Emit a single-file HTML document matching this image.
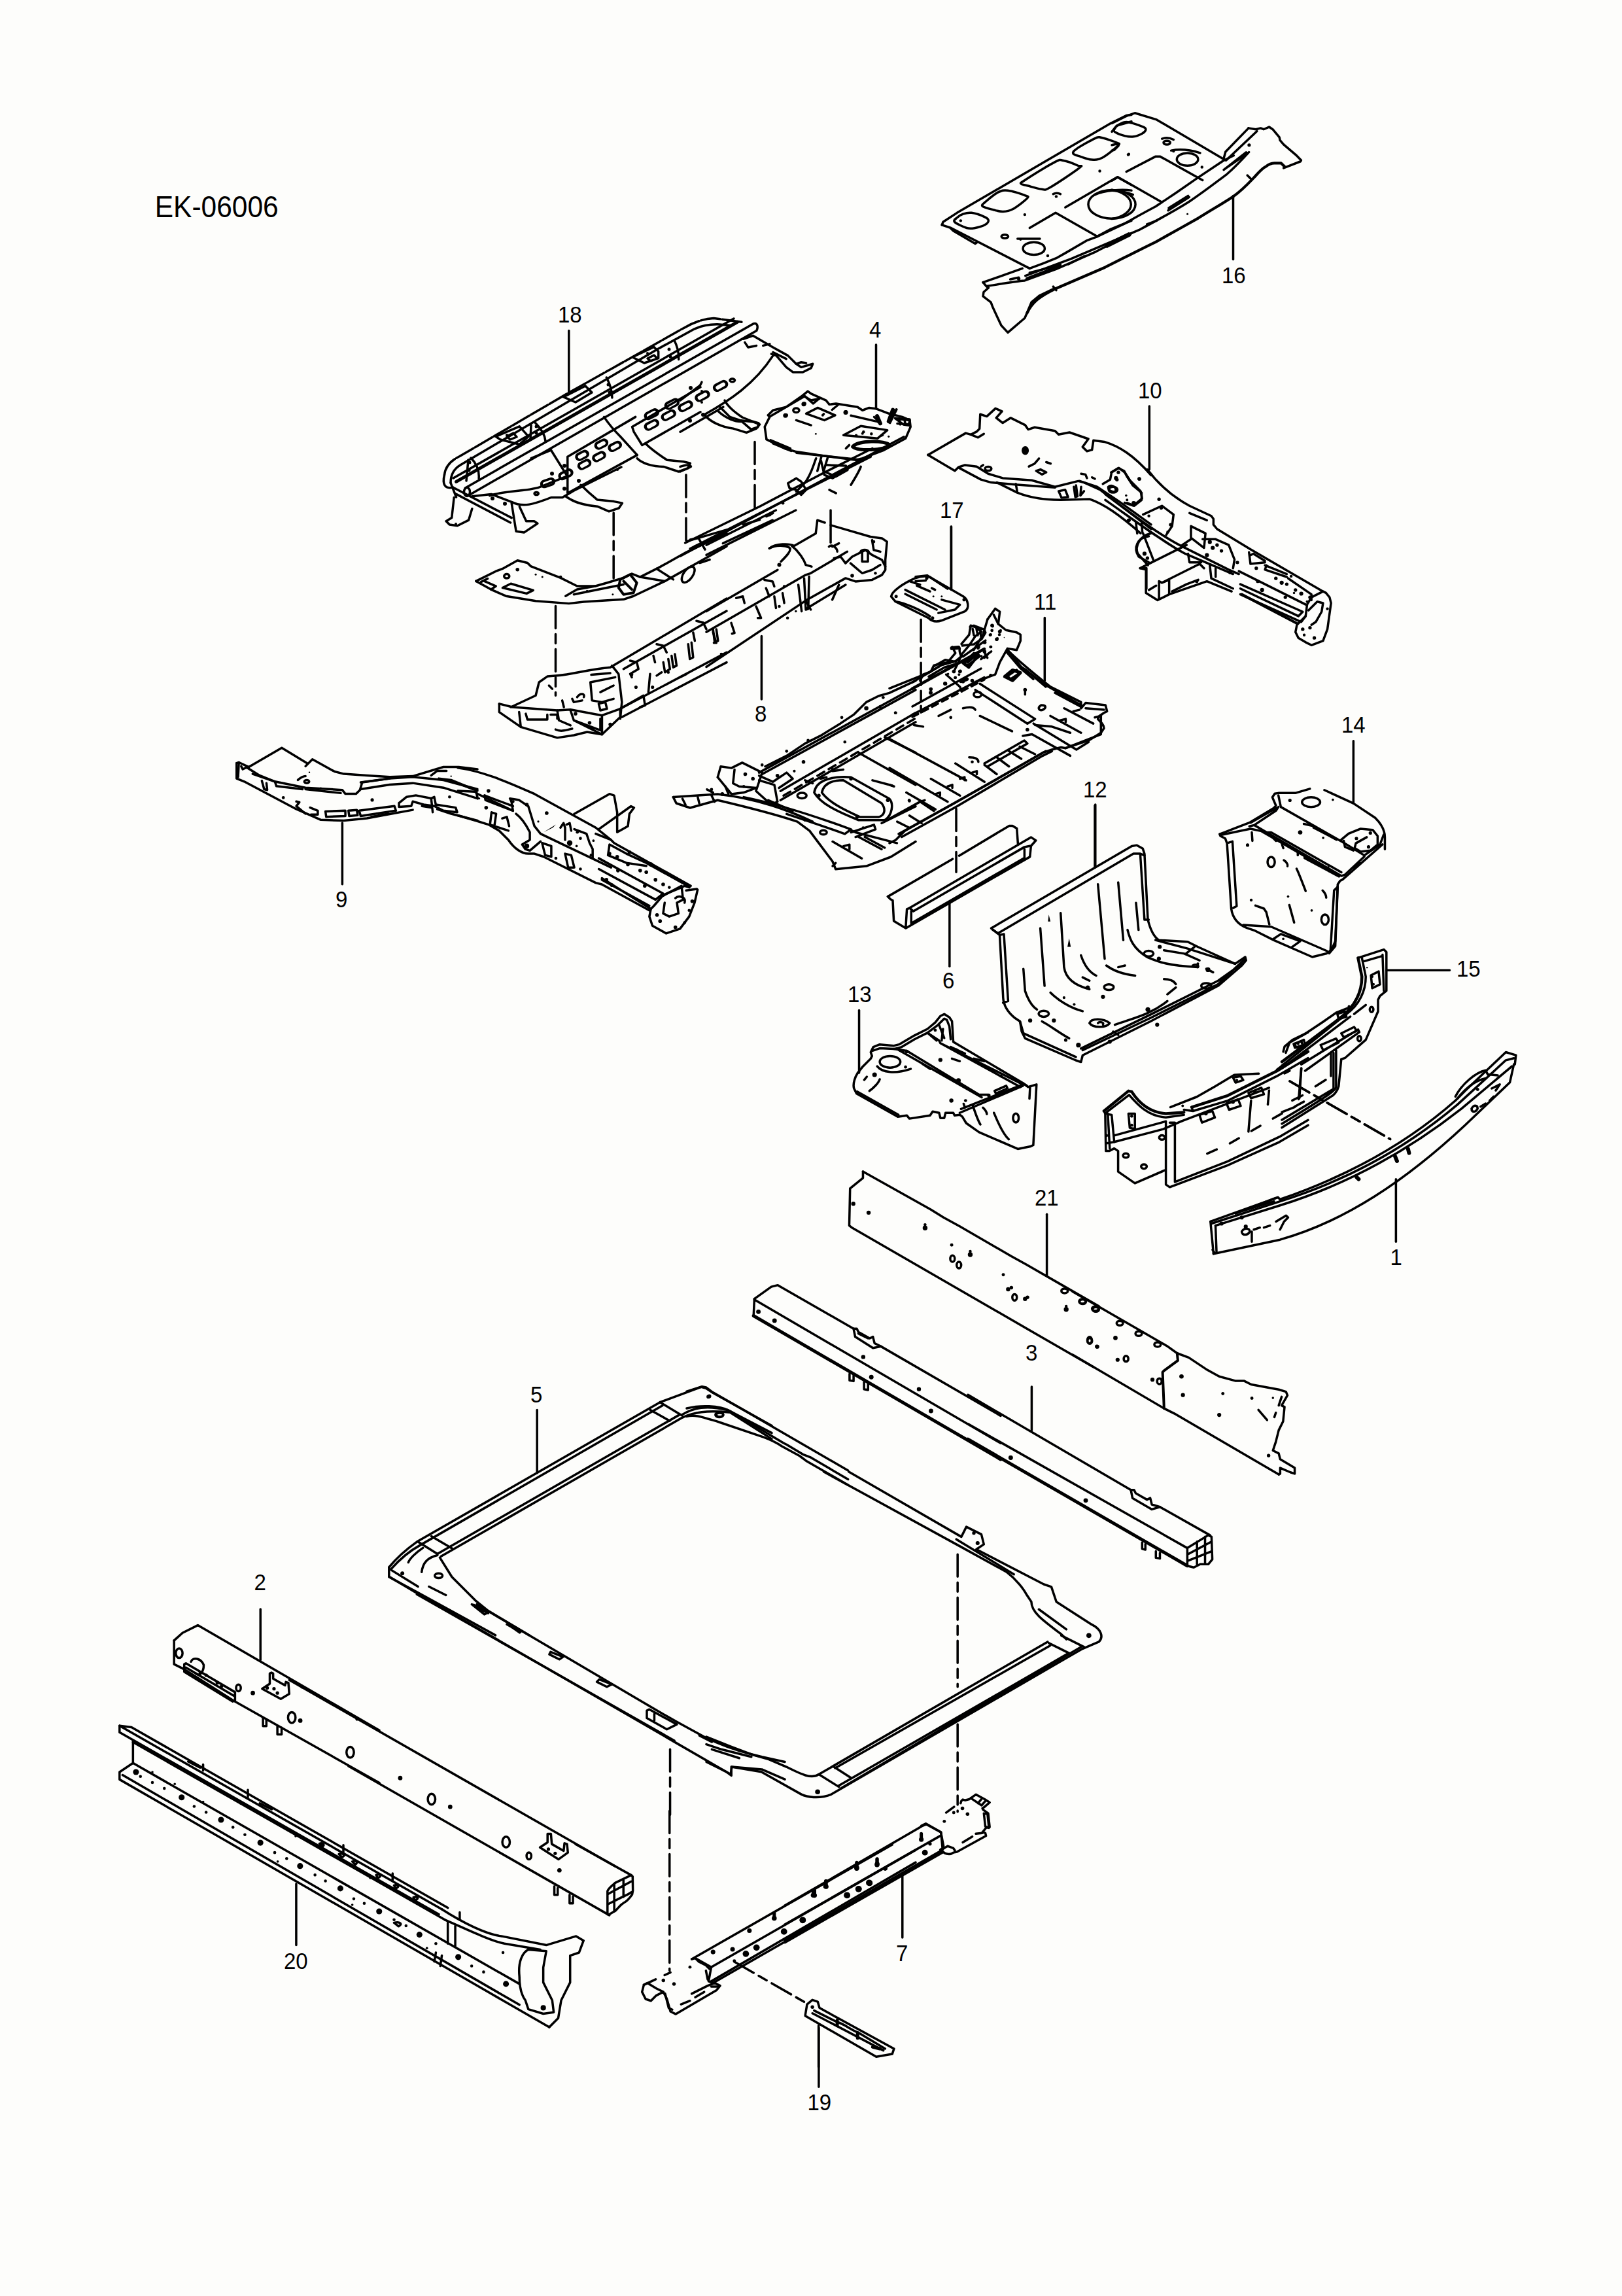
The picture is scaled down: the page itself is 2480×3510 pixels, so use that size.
<!DOCTYPE html>
<html><head><meta charset="utf-8"><style>
html,body{margin:0;padding:0;background:#fdfdfb;overflow:hidden;}
svg{display:block;}
svg{fill:none;stroke:#000;stroke-width:3.5;stroke-linejoin:round;stroke-linecap:round;}
path,ellipse,circle,rect,polyline,line{vector-effect:non-scaling-stroke;}
.dots circle,.f{fill:#000;stroke:none;}
text{font-family:"Liberation Sans",sans-serif;fill:#000;stroke:none;}
</style></head><body>
<svg width="2480" height="3510" viewBox="0 0 2480 3510">
<rect x="0" y="0" width="2480" height="3510" style="fill:#fdfdfb;stroke:none"/>
<text transform="translate(236.7,332.0) scale(1,1.07)" font-size="42.5">EK-06006</text>
<text transform="translate(1868.0,432.5) scale(1,1.06)" font-size="33">16</text>
<path d="M1885.5,299.5 L1885.5,396.6"/>
<text transform="translate(853.0,493.0) scale(1,1.06)" font-size="33">18</text>
<path d="M869.8,505.6 L869.8,599.4"/>
<text transform="translate(1329.0,515.7) scale(1,1.06)" font-size="33">4</text>
<path d="M1339.5,527 L1339.5,624.7"/>
<text transform="translate(1154.0,1103.0) scale(1,1.06)" font-size="33">8</text>
<path d="M1164.4,972.6 L1164.4,1068.9"/>
<text transform="translate(1437.0,792.0) scale(1,1.06)" font-size="33">17</text>
<path d="M1454.4,805 L1454.5,901.6"/>
<text transform="translate(1740.0,609.2) scale(1,1.06)" font-size="33">10</text>
<text transform="translate(1581.0,931.6) scale(1,1.06)" font-size="33">11</text>
<path d="M1597.3,944.5 L1597.3,1040.6"/>
<text transform="translate(1656.0,1218.6) scale(1,1.06)" font-size="33">12</text>
<path d="M1674,1231.5 L1674,1326.4"/>
<text transform="translate(513.0,1386.9) scale(1,1.06)" font-size="33">9</text>
<text transform="translate(1441.0,1511.3) scale(1,1.06)" font-size="33">6</text>
<text transform="translate(2051.0,1119.8) scale(1,1.06)" font-size="33">14</text>
<text transform="translate(2227.0,1493.0) scale(1,1.06)" font-size="33">15</text>
<text transform="translate(2125.6,1933.5) scale(1,1.06)" font-size="33">1</text>
<text transform="translate(1296.0,1531.6) scale(1,1.06)" font-size="33">13</text>
<text transform="translate(1582.0,1842.7) scale(1,1.06)" font-size="33">21</text>
<text transform="translate(1568.0,2079.5) scale(1,1.06)" font-size="33">3</text>
<text transform="translate(811.0,2143.6) scale(1,1.06)" font-size="33">5</text>
<text transform="translate(434.0,3010.0) scale(1,1.06)" font-size="33">20</text>
<text transform="translate(1370.0,2997.7) scale(1,1.06)" font-size="33">7</text>
<text transform="translate(388.5,2431.2) scale(1,1.06)" font-size="33">2</text>
<text transform="translate(1234.5,3226.3) scale(1,1.06)" font-size="33">19</text>
<path d="M1251.9,3100 L1251.9,3190.3"/>

<g transform="translate(1840,1590) scale(0.30826)">
<path d="M35,900 L370,780 L380,790 C700,680 1000,520 1250,300 L1300,250 L1500,60 L1550,75 L1545,120"/>
<path d="M40,910 L380,800 C700,700 1000,540 1260,320 L1500,100 L1540,90"/>
<path d="M60,920 L380,820 C700,720 1000,560 1280,340 L1530,130"/>
<path d="M50,1060 L380,990 C700,900 1000,700 1300,420 L1520,210 L1540,120"/>
<path d="M35,900 L50,1060 M45,1040 L55,1055 M60,920 L65,1050"/>
<path d="M160,860 L340,790 L370,780 M170,855 L350,800"/>
<path d="M1250,280 C1280,220 1350,160 1400,150 L1410,170 L1460,175 M1260,290 C1300,240 1350,200 1400,190"/>
<path d="M190,950 C200,930 230,930 230,950 C220,970 190,970 190,950 M250,940 L280,930 M300,930 L330,920 M360,900 L410,870 L420,880 L400,900 L380,940 M240,950 L240,1000"/>
<path d="M1330,340 C1340,320 1360,320 1360,340 C1350,360 1330,360 1330,340 M1375,330 L1400,315 M1420,300 L1440,280 M1450,250 L1470,220 L1430,240"/>
<path d="M950,575 L960,600 M1015,540 L1020,560 M760,680 L770,690" stroke-width="6"/>
<path d="M430,205 L925,490" stroke-dasharray="34,9,14,9"/>
<path d="M955,690 L955,1000"/>
<g class="dots"><circle cx="90" cy="910" r="10"/><circle cx="190" cy="880" r="10"/><circle cx="210" cy="925" r="10"/><circle cx="1360" cy="245" r="8"/></g>
</g>

<g transform="translate(160,2460) scale(0.25894)">
<path d="M410,185 L460,140 L550,95 L1622,715"/>
<path d="M410,185 L410,325 L470,355 L760,540 L1622,1025"/>
<path d="M470,325 L480,320 L770,490 L770,540 L755,545 L470,370 Z M480,345 L760,510"/>
<path d="M510,310 C520,280 570,290 585,330 C585,370 560,400 540,380"/>
<ellipse cx="440" cy="260" rx="20" ry="28"/>
<ellipse cx="790" cy="465" rx="14" ry="20"/>
<ellipse cx="1105" cy="640" rx="22" ry="32"/>
<ellipse cx="1450" cy="845" rx="22" ry="32"/>
<path d="M975,380 L985,375 L995,380 L995,410 L1065,450 L1070,430 L1085,435 L1090,500 L1040,530 L930,470 L975,440 Z"/>
<path d="M935,640 L935,690 L955,690 L955,650 M1020,690 L1020,740 L1045,740 L1045,700"/>
<path d="M920,0 L920,300"/>
<g class="dots"><circle cx="875" cy="495" r="13"/><circle cx="1155" cy="658" r="13"/><circle cx="565" cy="375" r="10"/><circle cx="600" cy="390" r="10"/><circle cx="665" cy="435" r="10"/><circle cx="690" cy="455" r="10"/><circle cx="960" cy="465" r="10"/><circle cx="1000" cy="470" r="10"/><circle cx="1020" cy="495" r="10"/><circle cx="1165" cy="460" r="9"/><circle cx="1490" cy="650" r="9"/></g>
</g>
<g transform="translate(520,2700) scale(0.25894)">
<path d="M-300,-509 L1622,590"/>
<path d="M50,0 L1590,880"/>
<path d="M1180,480 L1225,450 L1225,400 L1245,400 L1250,460 L1320,500 L1325,455 L1340,460 L1345,510 L1290,550 Z"/>
<ellipse cx="540" cy="195" rx="22" ry="32"/>
<ellipse cx="980" cy="448" rx="22" ry="32"/>
<ellipse cx="1115" cy="530" rx="14" ry="20"/>
<path d="M1265,710 L1265,760 L1285,760 L1285,720 M1355,760 L1355,810 L1375,810 L1375,770"/>
<g class="dots"><circle cx="355" cy="70" r="13"/><circle cx="650" cy="240" r="13"/><circle cx="1295" cy="615" r="13"/><circle cx="1230" cy="490" r="10"/><circle cx="1270" cy="515" r="10"/></g>
</g>
<g transform="translate(880,2820) scale(0.07398)">
<path d="M0,-10 L1150,630"/>
<path d="M660,1440 L660,960 C680,900 750,850 820,790 L1150,630 L1180,660 L1185,950 L1170,1030 C1120,1100 1080,1160 1000,1200 C900,1260 880,1320 820,1370 L680,1450 Z"/>
<path d="M800,810 L800,1380 M990,730 L990,1080 M670,1020 L1150,760 M670,1230 L970,1080 C1050,1050 1100,1020 1160,980"/>
</g>

<g transform="translate(1130,1940) scale(0.24661)">
<path d="M95,185 L200,110 L240,100 L710,370 M880,480 L1622,910"/>
<path d="M95,190 L1622,1080"/>
<path d="M90,290 L1622,1180" stroke-width="5"/>
<path d="M95,185 L90,290"/>
<path d="M710,370 L730,370 L740,390 L810,430 L830,420 L840,460 L880,480 L830,490 L720,420 Z M740,400 L800,430"/>
<path d="M685,650 L685,690 L710,695 L710,660 M775,700 L775,745 L800,750 L800,710"/>
<g class="dots"><circle cx="120" cy="265" r="14"/><circle cx="220" cy="320" r="14"/><circle cx="770" cy="545" r="13"/><circle cx="820" cy="670" r="14"/><circle cx="1115" cy="745" r="13"/><circle cx="1190" cy="880" r="14"/></g>
</g>
<g transform="translate(1480,2120) scale(0.24661)">
<path d="M0,50 L1010,640 M1190,745 L1500,920"/>
<path d="M0,230 L1360,1000"/>
<path d="M0,325 L1360,1110" stroke-width="5"/>
<path d="M1360,1000 L1490,920 L1510,930 L1515,1070 L1490,1100 L1440,1100 L1400,1120 L1360,1110 Z M1420,960 L1420,1100 M1470,930 L1470,1090 M1360,1040 L1510,960 M1360,1080 L1510,1020"/>
<path d="M1010,640 L1030,640 L1040,660 L1110,700 L1130,690 L1140,730 L1190,745 L1140,760 L1020,690 Z"/>
<path d="M1080,965 L1080,1005 L1100,1010 L1100,975 M1165,1020 L1165,1060 L1190,1065 L1190,1030"/>
<path d="M395,0 L395,270"/>
<g class="dots"><circle cx="265" cy="440" r="14"/><circle cx="730" cy="705" r="14"/></g>
</g>

<g transform="translate(1040,460) scale(0.25339)">
<path d="M520,830 L510,760 L540,700 L530,690 L560,660 L640,640 L740,570 L770,545 L790,560 L880,600 L900,625 L940,620 L1070,640 L1100,660 L1140,645 L1180,650 L1260,680 L1340,700 L1385,720 L1390,760 L1360,830 L1230,900 L1100,950 L1060,960 L870,935 L700,910 L630,890 L520,835 Z"/>
<path d="M760,680 L830,645 L935,690 L870,720 Z"/>
<path d="M985,810 L1090,755 L1250,780 L1190,830 Z"/>
<ellipse cx="700" cy="660" rx="18" ry="13"/>
<path d="M700,720 L790,750"/>
<path d="M560,860 L670,905 M545,840 L665,890"/>
<path d="M740,570 L790,600 L840,590"/>
<path d="M1040,880 C1070,840 1240,840 1265,870 C1240,900 1070,910 1040,880 Z" stroke-width="5"/>
<path d="M1300,710 L1385,720 L1380,745 L1310,740"/>
<path d="M1305,655 L1265,735" stroke-width="4"/>
<path d="M1000,890 L1020,870 M1170,700 L1210,740"/>
<path d="M0,1540 L1350,820" stroke-width="3.5"/>
<path d="M30,1460 L480,1240 L880,1030 L1160,890"/>
<path d="M60,1495 L600,1220 L1150,940"/>
<path d="M820,950 C800,1000 790,1050 750,1100 L700,1150"/>
<path d="M850,965 L870,1050 L920,1070 L1000,1020 L1040,990"/>
<path d="M880,990 L1000,995 L1010,1020 L940,1060 L870,1030"/>
<path d="M650,1100 L700,1070 L730,1090 L760,1140 L730,1170 L700,1140 L660,1130 Z"/>
<path d="M1030,1110 C1060,1060 1080,1030 1090,1000"/>
<path d="M380,1350 L480,1320 M250,1400 L300,1380 M520,1300 L560,1280"/>
<path d="M60,1440 L110,1430 L150,1500"/>
<path d="M900,1140 L940,1160"/>
<g class="dots"><circle cx="640" cy="690" r="11"/><circle cx="750" cy="620" r="11"/><circle cx="1000" cy="670" r="11"/><circle cx="1200" cy="730" r="11"/><circle cx="620" cy="1220" r="9"/><circle cx="540" cy="1290" r="10"/><circle cx="860" cy="690" r="8"/><circle cx="1100" cy="800" r="8"/><circle cx="1220" cy="810" r="8"/></g>
</g>
<g transform="translate(700,820) scale(0.25339)">
<path d="M110,270 L160,245 L230,210 L270,195 L360,145 L420,160 L440,180 L620,250 L720,300 L830,300 L900,280 L1000,250 L1050,225 L1100,245 L1210,190 L1380,95 L1622,-20"/>
<path d="M110,270 L200,320 L290,360 L470,390 L670,405 L760,395 L1000,380 L1060,360 L1250,270 L1622,60"/>
<path d="M160,270 L230,300 L200,320 M140,275 L180,255"/>
<path d="M270,310 L320,285 L455,325 L415,345 Z"/>
<ellipse cx="295" cy="240" rx="16" ry="13"/>
<path d="M650,360 L720,320 L830,300 M700,350 L900,310 L1000,290"/>
<path d="M980,260 L1040,230 L1080,280 L1060,340 L1000,350 L970,310 Z" stroke-width="4"/>
<path d="M1000,270 L1050,320" stroke-width="4"/>
<ellipse cx="1390" cy="230" rx="28" ry="55" transform="rotate(35 1390 230)"/>
<path d="M1100,245 L1250,270 M1200,195 L1300,260"/>
<path d="M1380,30 L1622,-40 M1430,60 L1622,-10 M1460,160 L1520,140"/>
<path d="M940,-142 L940,260" stroke-dasharray="34,9,14,9"/>
<path d="M590,420 L590,960" stroke-dasharray="34,9,14,9"/>
<g class="dots"><circle cx="360" cy="200" r="11"/><circle cx="620" cy="245" r="9"/><circle cx="470" cy="230" r="6"/><circle cx="510" cy="245" r="6"/><circle cx="935" cy="350" r="6"/><circle cx="780" cy="330" r="7"/></g>
</g>
<g transform="translate(1160,580) scale(0.16030)">
<path d="M105,355 L430,165 M440,160 L520,230 L580,180 M700,290 L760,240"/>
<path d="M880,345 L1120,400 M1300,370 L1440,380 L1440,440 L1380,430 Z M1340,375 L1350,430 M1390,380 L1400,430"/>
<path d="M1130,350 L1160,420 M1280,290 L1240,400" stroke-width="6"/>
<path d="M360,700 L1000,770 M600,730 L560,873 M660,740 L620,873"/>
<g class="dots"><circle cx="430" cy="235" r="22"/><circle cx="255" cy="345" r="22"/><circle cx="830" cy="315" r="22"/><circle cx="1140" cy="395" r="20"/><circle cx="930" cy="535" r="14"/><circle cx="1000" cy="500" r="14"/><circle cx="1075" cy="520" r="14"/><circle cx="1170" cy="535" r="12"/><circle cx="1240" cy="545" r="10"/><circle cx="620" cy="330" r="12"/><circle cx="545" cy="520" r="9"/></g>
</g>

<g transform="translate(580,2100) scale(0.36992)">
<path d="M40,800 C80,750 120,720 155,695 L1160,118 L1330,55 L1350,60 L1380,80 L1622,215"/>
<path d="M48,808 C90,760 130,730 170,708 L1170,132"/>
<path d="M240,745 L1240,170 M255,755 L1255,180"/>
<path d="M160,695 L240,745 M215,672 L300,722 M1120,150 L1200,195 M1160,118 L1250,172"/>
<path d="M1255,180 C1300,160 1350,150 1450,160 L1622,270 M1250,170 C1300,140 1350,130 1440,150 L1622,245"/>
<path d="M40,800 L40,840 L160,905 L480,1081 M50,812 L160,880"/>
<path d="M180,720 C150,740 125,765 120,780 M250,760 L300,840 L400,940 L450,980 L620,1081 M175,820 C180,780 200,760 240,750"/>
<ellipse cx="245" cy="835" rx="16" ry="10"/>
<path d="M205,880 L275,915 M390,955 L450,990 M530,1035 L580,1070"/>
<ellipse cx="1405" cy="170" rx="16" ry="10"/>
<path d="M652,150 L652,410"/>
<g class="dots"><circle cx="95" cy="825" r="8"/><circle cx="1360" cy="95" r="8"/></g>
</g>
<g transform="translate(580,2380) scale(0.38225)">
<path d="M40,80 L150,145 L1180,740 L1405,870 L1410,840 L1530,850 L1622,890"/>
<path d="M150,150 L1180,735"/>
<path d="M390,190 L440,220 L1120,620 L1190,660 L1300,720 C1380,760 1450,780 1490,790 L1530,800 L1622,820"/>
<path d="M1330,770 L1440,805 M1280,715 L1330,740"/>
<path d="M370,190 L410,215 L440,220 L420,230 Z M510,270 L565,300 M685,380 L735,400 L720,410 L680,390 Z M880,490 L930,510 L910,520 L870,500 Z"/>
<path d="M1070,615 L1080,610 L1190,670 L1150,690 L1070,645 Z M1100,628 L1100,655"/>
<path d="M1163,770 L1163,1046" stroke-dasharray="34,9,14,9"/>
</g>
<g transform="translate(1080,2250) scale(0.38225)">
<path d="M470,0 L1000,290 L1200,400 C1240,430 1270,470 1280,490 L1300,520 C1300,560 1340,590 1420,650 L1440,670"/>
<path d="M570,0 L1020,260 L1040,220 L1100,250 L1110,290 L1080,310 L1350,450 L1380,460 L1400,520 L1540,610 C1580,630 1590,660 1570,680 L1500,710 L500,1290 C450,1310 400,1300 380,1290 L220,1200 L100,1180 L100,1215 L80,1200 L0,1160"/>
<path d="M1365,680 L450,1210 C420,1230 380,1210 320,1180 L250,1150 L180,1130 L100,1100 L0,1060"/>
<path d="M1375,695 L515,1185 M1450,725 L530,1255 M1500,700 L540,1265"/>
<path d="M1370,685 L1450,725 M1420,655 L1510,700 M450,1210 L530,1260 M510,1180 L580,1225"/>
<path d="M0,1090 L60,1110 L180,1140 M1330,550 L1440,630 M1000,270 L1230,410"/>
<path d="M1005,330 L1005,860" stroke-dasharray="34,9,14,9"/>
<path d="M1005,1010 L1005,1360" stroke-dasharray="34,9,14,9"/>
<g class="dots"><circle cx="1530" cy="655" r="10"/><circle cx="445" cy="1280" r="10"/><circle cx="1070" cy="245" r="7"/><circle cx="1085" cy="285" r="8"/></g>
</g>
<g transform="translate(1050,2100) scale(0.24661)">
<path d="M0,110 L95,80 L120,85 L160,115 L300,195 L1000,600"/>
<path d="M0,215 C80,195 200,195 265,230 L600,430 L620,440 L720,500 L770,520 L1000,655"/>
<path d="M0,265 C50,250 100,270 200,300 L480,395 C520,410 560,430 590,450 L700,510 L740,540 L1000,690"/>
<ellipse cx="205" cy="255" rx="22" ry="12"/>
<g class="dots"><circle cx="140" cy="140" r="12"/></g>
</g>

<g transform="translate(1330,1200) scale(0.16646)">
<path d="M165,1025 L190,1050 L210,1060 L220,1250 L330,1315 L1470,660 L1480,560 L1525,510 L1480,480 L365,1130 L340,1140 L330,1300"/>
<path d="M165,1025 L760,680 M820,650 L1280,375 L1310,375 L1350,400 L1360,540"/>
<path d="M365,1130 L400,1160 L1420,570 L1470,560"/>
<path d="M380,1160 L380,1270 L1420,670 L1420,590"/>
<path d="M793,220 L793,800" stroke-dasharray="34,9,14,9"/>
<path d="M732,1080 L732,1665"/>
</g>

<g transform="translate(960,2820) scale(0.27127)">
<path d="M360,645 L1490,0"/>
<path d="M360,645 L380,640 L470,690 L1622,30"/>
<path d="M470,690 L455,770 L480,780 L1622,125 M470,770 L1622,100"/>
<path d="M380,640 L400,660 L440,680 L460,700 M440,710 L450,760"/>
<path d="M90,790 L80,830 L100,870 L130,880 L160,850 L200,830 L220,870 L240,940 L270,955 L500,820 L520,795 L490,780 L450,795 L360,840 M90,790 L110,780 L160,810 L200,830"/>
<path d="M210,840 L230,920 L250,930 M300,900 L350,880 M380,860 L430,830 M470,800 L510,800"/>
<path d="M90,790 L240,720" stroke-dasharray="20,15"/>
<path d="M600,660 L1000,890" stroke-dasharray="34,9,14,9"/>
<path d="M235,-190 L235,710" stroke-dasharray="34,9,14,9"/>
<g class="dots"><circle cx="480" cy="605" r="13"/><circle cx="590" cy="590" r="13"/><circle cx="685" cy="485" r="13"/><circle cx="665" cy="615" r="18"/><circle cx="725" cy="580" r="18"/><circle cx="880" cy="490" r="18"/><circle cx="985" cy="425" r="18"/><circle cx="1235" cy="285" r="18"/><circle cx="1300" cy="250" r="18"/><circle cx="1360" cy="215" r="18"/><circle cx="1450" cy="135" r="12"/><circle cx="825" cy="415" r="14"/><circle cx="1045" cy="285" r="14"/><circle cx="1115" cy="235" r="14"/><circle cx="1290" cy="130" r="14"/><circle cx="1405" cy="110" r="14"/><circle cx="200" cy="765" r="10"/><circle cx="260" cy="785" r="10"/><circle cx="600" cy="655" r="9"/><circle cx="350" cy="690" r="9"/></g>
<path d="M825,385 L825,415 M1045,255 L1045,285 M1115,205 L1115,235 M1290,100 L1290,130 M1405,80 L1405,110" stroke-width="5"/>
</g>
<g transform="translate(1200,2760) scale(0.22194)">
<path d="M0,690 L950,140 L975,130 L1075,185 L1095,290 L1080,310"/>
<path d="M0,820 L1070,210"/>
<path d="M0,930 L1080,310 M0,945 L1085,325"/>
<g class="dots"><circle cx="205" cy="620" r="16"/><circle cx="285" cy="560" r="16"/><circle cx="495" cy="435" r="16"/><circle cx="635" cy="410" r="16"/><circle cx="940" cy="235" r="16"/><circle cx="695" cy="435" r="12"/><circle cx="1000" cy="265" r="12"/><circle cx="430" cy="620" r="20"/><circle cx="510" cy="575" r="20"/><circle cx="585" cy="535" r="20"/><circle cx="965" cy="325" r="20"/><circle cx="125" cy="790" r="20"/></g>
<path d="M205,585 L205,620 M285,520 L285,560 M495,395 L495,435 M635,370 L635,410 M940,195 L940,235" stroke-width="5"/>
<path d="M810,480 L810,910"/>
</g>
<g transform="translate(1380,2730) scale(0.11098)">
<path d="M540,880 C560,940 650,960 700,920 L750,910 L1150,690 L1140,650 L1100,640 L1150,580 L1200,570 L1180,380 L1110,330 L1100,310 L1130,290 L1200,230 L1130,185 L1010,120 L940,170 L920,185 L860,200 L830,190 L810,210 L800,240"/>
<path d="M1120,380 L1140,560 L1190,580 L1170,390 Z M940,170 L1090,270 L1140,210 M1040,240 L1090,180 M540,880 L620,830 L700,860 L720,890 M600,370 L710,290 M830,780 L960,700 M1010,660 L1100,650"/>
<path d="M260,550 L320,520 L530,640 L550,860 L520,880"/>
<g class="dots"><circle cx="825" cy="310" r="25"/><circle cx="895" cy="390" r="25"/><circle cx="705" cy="370" r="22"/><circle cx="575" cy="490" r="22"/></g>
</g>

<g transform="translate(700,820) scale(0.25339)">
<path d="M250,1010 L250,1060 L380,1150 L600,1215 L700,1200 L780,1180 L870,1195 L980,1090 L980,1040 L1622,700"/>
<path d="M320,1030 L470,960 L490,880 L540,845 L600,840 C700,830 800,800 920,790 L1622,375"/>
<path d="M250,1010 L330,1030 L600,1050 L680,1045 L870,1080 L980,1040"/>
<path d="M930,780 L970,830 L990,1000 L980,1100"/>
<path d="M990,1090 L1622,760"/>
<path d="M410,1070 L420,1105 L540,1105 L540,1075 M560,1075 L600,1075 L600,1100"/>
<path d="M370,1060 L380,1150 M600,1050 L610,1110 L680,1140 M680,1050 L700,1110 L860,1170 L860,1100 M700,1110 L870,1195 L870,1080"/>
<path d="M805,835 L920,825 M800,880 L950,850 M800,880 L810,990 L870,1000 L940,980 M860,940 L940,900"/>
<path d="M690,980 L700,1000 L750,990 M720,970 C740,940 770,950 760,970"/>
<path d="M850,1010 L890,1000 L900,1040 L860,1050 Z"/>
<path d="M590,1165 C620,1180 650,1170 690,1160"/>
<path d="M630,990 L640,1030 M550,900 L570,920"/>
<path d="M1000,800 L1622,450"/>
<path d="M1040,750 L1080,760 L1090,800 L1040,830 L1050,850 M1160,830 L1150,940"/>
<path d="M1200,650 L1240,660 L1260,700 M1180,720 L1190,760 M1240,760 L1250,820 L1280,800 L1270,740 M1290,720 L1300,790 L1320,780 L1310,710"/>
<path d="M1440,510 L1480,520 L1500,560 M1420,580 L1430,630 M1390,650 L1400,740 L1420,730 L1410,640 M1540,560 L1550,640 L1570,630 L1560,560"/>
<path d="M980,1040 L1120,960 L1130,1020 L1100,1030"/>
<path d="M1340,850 L1380,830 M1200,840 L1230,820"/>
<g class="dots"><circle cx="710" cy="1070" r="11"/><circle cx="795" cy="1125" r="11"/><circle cx="920" cy="1135" r="11"/><circle cx="1075" cy="910" r="10"/><circle cx="1175" cy="910" r="10"/><circle cx="1270" cy="820" r="9"/><circle cx="1590" cy="710" r="9"/><circle cx="1050" cy="835" r="9"/></g>
</g>
<g transform="translate(1080,780) scale(0.25339)">
<path d="M0,610 L430,360"/>
<path d="M380,230 C420,200 500,200 530,215 L660,140 L670,60 L715,75"/>
<path d="M750,90 L990,160 L1060,170 L1090,190 L1080,300 L1080,360 L1060,390 L1000,420 L900,430 L840,410 L600,545 L0,945"/>
<path d="M380,230 C420,210 470,210 500,225 C520,240 480,280 450,310"/>
<path d="M515,215 C560,250 590,300 600,330 L635,340"/>
<path d="M0,735 L600,390 L630,380 L850,250"/>
<path d="M610,590 L840,450 M600,545 L630,600"/>
<path d="M40,735 L60,800 L45,800 M150,680 L170,740 L155,745 M300,580 L330,650 L310,650 M410,520 L420,590 M460,500 L470,560 M555,450 L575,610 M590,410 L600,600 L615,595 L620,400"/>
<path d="M180,530 L220,520 L230,560 M350,420 L400,430 L410,460 M360,470 L380,520"/>
<path d="M770,290 L810,280 L840,320 L880,280 L960,240 L1000,270 L1060,300 L1080,340"/>
<path d="M940,250 L940,310 L975,310 L975,250 M930,250 C940,235 970,235 980,250"/>
<path d="M870,320 L940,380 L1000,360 L1050,330 M760,540 L800,450"/>
<path d="M1000,180 L1010,240 L1050,250"/>
<path d="M800,200 L760,220 M740,220 C760,200 790,230 790,250"/>
<path d="M750,0 L750,195" />
<path d="M0,270 L540,0 M0,210 L420,0 M100,200 L400,60"/>
<g class="dots"><circle cx="440" cy="330" r="12"/><circle cx="880" cy="395" r="11"/><circle cx="1010" cy="190" r="9"/><circle cx="1020" cy="380" r="9"/><circle cx="95" cy="870" r="9"/><circle cx="490" cy="650" r="9"/><circle cx="440" cy="580" r="9"/><circle cx="470" cy="460" r="9"/><circle cx="540" cy="610" r="7"/></g>
</g>

<g transform="translate(350,1080) scale(0.23428)">
<path d="M50,370 L65,365 L130,395 L345,270 L510,370 M500,390 L545,345 L690,425 L750,440 L900,450 L1050,460 L1200,455 L1400,395 L1500,395 L1622,410"/>
<path d="M50,370 L50,470 L100,490 L440,670 L600,740 L750,745 L900,730 L1200,675"/>
<path d="M65,365 L60,460 M80,390 L90,410 L110,400 L130,395"/>
<path d="M120,400 L200,450 L300,490 L500,530 L740,545 L760,570 L830,570 L855,545 L870,495 L1050,470"/>
<path d="M860,495 L1050,470 L1200,460 L1400,480 L1622,540 M860,540 L1050,510 L1200,500 L1400,530 L1622,600"/>
<path d="M155,440 L300,490 L310,520 L480,540 M500,540 L730,565"/>
<path d="M215,485 L230,540 L250,545 L245,500"/>
<path d="M630,685 L760,680 L760,715 L635,720 Z M780,680 L835,675 L840,710 L785,715 Z M850,680 L1080,650 L1090,680 L860,715 Z M530,660 L580,680 L580,705 L535,705"/>
<path d="M440,620 L460,625 L440,650 L500,700 M930,720 L1040,700"/>
<path d="M1110,630 L1160,590 L1220,580 L1320,600 L1340,590 L1350,640 L1480,660 L1490,690 L1400,680 L1340,650 L1270,640 L1200,620 L1190,650 L1110,655 Z"/>
<path d="M1320,600 L1330,690 M1360,670 L1450,700 L1622,745 M1260,650 L1320,660"/>
<path d="M1320,450 L1360,420 L1420,420 M1370,470 L1450,480 L1622,550"/>
<path d="M450,480 Q480,455 500,455"/>
<ellipse cx="508" cy="490" rx="16" ry="10"/>
<path d="M740,760 L740,1160"/>
<g class="dots"><circle cx="355" cy="595" r="10"/><circle cx="935" cy="610" r="11"/><circle cx="1440" cy="590" r="10"/><circle cx="600" cy="535" r="8"/><circle cx="525" cy="430" r="5"/><circle cx="1450" cy="455" r="5"/></g>
</g>
<g transform="translate(700,1120) scale(0.23428)">
<path d="M0,230 C150,250 300,310 500,400 L700,510 L900,620 L1000,700 L1020,720 L1520,1000 L1510,1010 L1480,1000 L1460,1010 L1340,1060 L1280,1130 L1260,1150 L1250,1200 L1270,1260 L1360,1310 L1450,1280 L1510,1200 L1545,1110 L1565,1025 L1560,1020 L1490,1030"/>
<path d="M0,540 L120,575 L200,600 L270,640 L330,700 C370,760 420,790 460,790 L500,790 L560,810 L900,980 L940,990 L1250,1160"/>
<path d="M0,380 L110,385 L130,400 L360,510 L350,450 L340,430 L400,440 L460,480 L500,610 L540,660 L1000,880"/>
<path d="M0,330 L100,370 M120,390 L130,430 M175,410 L360,480"/>
<path d="M175,410 L180,440 L360,510"/>
<path d="M920,820 L1340,1050 L1290,1090 L920,890 M940,950 L1260,1150 M940,960 L1250,1130"/>
<path d="M990,730 L1100,790 L1230,850 L1500,1000 M990,730 L980,800 L1100,850 L1230,870"/>
<path d="M760,530 L990,400 L1020,410 L1040,520 L1040,650 L1110,610 L1120,530 L1150,490 L1130,480 L920,630"/>
<path d="M900,660 L1000,700"/>
<path d="M210,600 L220,520 L250,530 L240,600 M290,560 L320,550 L335,610 M210,600 L330,640"/>
<path d="M380,530 C420,560 450,610 470,650 L470,700 L420,730 L440,760 L470,770 L540,710"/>
<path d="M560,650 L640,600 L610,570 L640,600 L620,620 Z" class="f"/>
<path d="M670,620 L690,590 L700,620 L700,700 M710,600 L730,590 L740,640 M760,630 L840,660 L860,720 L880,760 L880,820"/>
<path d="M550,720 L570,800 L610,810 L610,740 Z M700,790 L740,800 L760,880 L720,880 Z"/>
<path d="M1330,1070 L1460,1000 L1470,1090 L1430,1110 L1440,1180 L1380,1200 L1340,1180 L1350,1110 M1420,1080 C1440,1060 1490,1070 1480,1110"/>
<g class="dots"><circle cx="200" cy="380" r="12"/><circle cx="185" cy="490" r="12"/><circle cx="360" cy="450" r="10"/><circle cx="450" cy="470" r="12"/><circle cx="580" cy="525" r="12"/><circle cx="525" cy="580" r="7"/><circle cx="450" cy="740" r="16"/><circle cx="730" cy="720" r="18"/><circle cx="780" cy="650" r="10"/><circle cx="800" cy="690" r="10"/><circle cx="775" cy="740" r="8"/><circle cx="885" cy="705" r="8"/><circle cx="870" cy="800" r="10"/><circle cx="640" cy="820" r="10"/><circle cx="800" cy="890" r="10"/><circle cx="990" cy="790" r="12"/><circle cx="1040" cy="810" r="12"/><circle cx="1110" cy="860" r="12"/><circle cx="1120" cy="780" r="12"/><circle cx="1045" cy="900" r="12"/><circle cx="970" cy="960" r="12"/><circle cx="1005" cy="995" r="12"/><circle cx="1190" cy="900" r="12"/><circle cx="1230" cy="910" r="12"/><circle cx="1220" cy="1000" r="12"/><circle cx="1290" cy="960" r="12"/><circle cx="1340" cy="990" r="12"/><circle cx="1380" cy="1010" r="10"/><circle cx="1300" cy="1190" r="12"/><circle cx="1320" cy="1230" r="12"/><circle cx="1420" cy="1270" r="12"/><circle cx="1480" cy="1240" r="10"/><circle cx="1530" cy="1100" r="12"/><circle cx="1510" cy="1160" r="10"/><circle cx="1260" cy="860" r="14"/><circle cx="140" cy="430" r="6"/></g>
</g>

<g transform="translate(1400,580) scale(0.22194)">
<path d="M85,520 L345,370 L380,380 L420,360 L440,340 L445,240 L490,255 L550,200 L595,220 L555,265 L600,300 L655,265 L755,315 L775,345 L820,330 L960,355 L985,380 L1060,365 L1190,410 L1150,465 L1180,495 L1215,485 L1225,420 L1300,430 C1400,460 1500,520 1622,660"/>
<path d="M85,520 L270,630 L295,605 L340,590 L420,600 L500,650 L600,680 L800,695 L960,740 L1120,700 L1160,710 L1270,760 L1400,860 L1622,1030"/>
<path d="M380,380 L430,400 L470,375"/>
<path d="M300,610 L450,690 L520,710 L700,725 L960,745"/>
<path d="M560,710 L700,780 C800,820 900,830 1000,830 L1200,825 C1300,860 1400,930 1550,1060"/>
<path d="M1130,700 L1250,740 L1400,840 L1622,1000"/>
<path d="M690,720 L700,775"/>
<path d="M1290,720 L1340,690 L1350,640 L1400,610 L1440,640 L1480,700 L1550,770 L1560,820 L1500,870 L1440,850"/>
<ellipse cx="1360" cy="760" rx="30" ry="20"/>
<path d="M985,770 L1030,760 L1050,810 L1005,815 Z"/>
<path d="M1090,740 L1100,810 L1115,805 L1105,730 M1140,740 L1135,800 L1160,770"/>
<path d="M830,630 L860,620 L900,640 L870,655 Z"/>
<path d="M780,600 L820,580 L850,545 M900,570 L930,580 M1140,650 L1170,655 L1180,680 M1215,675 L1235,685"/>
<path d="M1622,1060 C1540,1080 1510,1150 1530,1200 L1600,1280 M1550,1300 L1590,1300 L1590,1442"/>
<ellipse cx="755" cy="490" rx="25" ry="30" class="f"/>
<ellipse cx="500" cy="615" rx="22" ry="14"/>
<path d="M450,600 L465,590"/>
<path d="M1610,185 L1610,620"/>
<path d="M245,1015 L245,1442"/>
<path d="M0,1360 L80,1350 L110,1370 L220,1442 M0,1390 L70,1385"/>
<g class="dots"><circle cx="1540" cy="685" r="12"/><circle cx="1470" cy="970" r="12"/><circle cx="1380" cy="680" r="14"/><circle cx="1500" cy="850" r="12"/><circle cx="1450" cy="800" r="8"/></g>
</g>
<g transform="translate(1690,700) scale(0.22194)">
<path d="M290,80 C350,160 450,260 580,330 L730,400 L745,420 L745,460 L770,490 L1000,630 L1500,920 L1520,930 L1545,960 L1555,1000 L1530,1180 L1500,1260 L1420,1290 L1380,1270 L1330,1240 L1310,1200 L1320,1150 L1380,1090 L1390,1010 L1420,960 L1500,920"/>
<path d="M580,380 L700,430"/>
<path d="M1380,1090 L1350,1130 L930,940"/>
<path d="M0,250 C200,400 400,550 550,620 L850,770 L920,800"/>
<path d="M0,290 C200,430 400,580 550,660 L880,800"/>
<path d="M920,780 L1380,1010"/>
<path d="M930,870 L1360,1060 L1330,1090 L930,900"/>
<path d="M940,940 L1320,1140" stroke-width="4"/>
<path d="M240,760 L280,770 L280,930 L360,980 L440,940 L700,850 L870,920"/>
<path d="M240,760 L560,600"/>
<path d="M370,850 L390,860 L650,730 L680,760 M370,850 L370,970 M390,860 L440,840 L440,940"/>
<path d="M720,740 L730,830 L880,900 M760,760 L760,820"/>
<path d="M300,910 L350,880 M460,920 L560,870 L640,840"/>
<path d="M300,540 C220,550 190,620 230,680 L300,720 M260,520 L330,700"/>
<path d="M40,100 L90,70 L130,90 L150,130 L190,190 L250,240 L250,290 L200,330 L150,310"/>
<path d="M20,200 C40,180 80,200 70,230 C40,240 20,220 20,200 Z"/>
<path d="M260,390 L390,330 L470,390 L460,470 L420,530"/>
<path d="M210,440 L220,520 M250,450 L255,510"/>
<path d="M590,470 L690,520 L680,620 L590,550 Z"/>
<path d="M670,560 L760,560 L850,600 L890,700 L880,760"/>
<path d="M530,600 L590,560 M570,660 L580,720 L660,720"/>
<path d="M990,650 L1000,730 L1100,720 M1000,670 L1020,660 L1100,710"/>
<path d="M1100,740 L1250,800 M1110,740 L1100,770 L1250,820"/>
<path d="M1260,830 L1420,940 L1420,980"/>
<path d="M1400,1050 L1460,990 L1500,1000 L1490,1060 L1450,1130 L1420,1150"/>
<g class="dots"><circle cx="90" cy="100" r="12"/><circle cx="80" cy="150" r="12"/><circle cx="235" cy="145" r="12"/><circle cx="370" cy="285" r="12"/><circle cx="160" cy="430" r="12"/><circle cx="200" cy="310" r="12"/><circle cx="150" cy="290" r="9"/><circle cx="385" cy="345" r="12"/><circle cx="300" cy="400" r="10"/><circle cx="450" cy="460" r="12"/><circle cx="430" cy="510" r="10"/><circle cx="270" cy="660" r="14"/><circle cx="290" cy="690" r="12"/><circle cx="720" cy="580" r="14"/><circle cx="740" cy="620" r="14"/><circle cx="770" cy="600" r="12"/><circle cx="800" cy="640" r="12"/><circle cx="700" cy="670" r="14"/><circle cx="910" cy="720" r="12"/><circle cx="860" cy="790" r="12"/><circle cx="630" cy="850" r="12"/><circle cx="1040" cy="760" r="12"/><circle cx="1050" cy="850" r="12"/><circle cx="1080" cy="910" r="14"/><circle cx="1175" cy="830" r="12"/><circle cx="1215" cy="860" r="14"/><circle cx="1250" cy="870" r="12"/><circle cx="1310" cy="910" r="12"/><circle cx="1350" cy="935" r="14"/><circle cx="1240" cy="960" r="12"/><circle cx="1360" cy="1180" r="12"/><circle cx="1410" cy="1170" r="12"/><circle cx="1440" cy="1240" r="12"/><circle cx="1370" cy="1220" r="10"/><circle cx="1530" cy="1040" r="10"/><circle cx="1410" cy="960" r="12"/><circle cx="1390" cy="990" r="9"/><circle cx="1280" cy="815" r="10"/><circle cx="1300" cy="930" r="8"/></g>
</g>

<g transform="translate(1020,900) scale(0.23428)">
<path d="M640,1160 L780,1090 L900,1010 L1000,960 L1130,880 L1220,820 L1300,740 L1380,700 L1450,680 L1622,600"/>
<path d="M600,1200 L1622,640"/>
<path d="M620,1210 L1622,660"/>
<path d="M740,1320 L1622,810"/>
<path d="M740,1380 L1622,870"/>
<path d="M760,1350 L1622,845" stroke-dasharray="12,8"/>
<path d="M330,1230 L350,1160 L420,1170 L490,1135 L620,1200 L600,1260 L580,1320 L680,1410 L720,1390"/>
<path d="M330,1230 L420,1340 L500,1330 L580,1300 M440,1180 L430,1270 L470,1290 L580,1300 M600,1250 L700,1280 L720,1390"/>
<path d="M600,1220 L690,1260 L780,1200 L820,1240 L730,1300"/>
<path d="M40,1360 L60,1400 L150,1430 L330,1380 C500,1420 700,1470 850,1520 L930,1580 L990,1660 L1080,1780 L1100,1830 L1300,1810 L1460,1750 L1622,1650"/>
<path d="M40,1360 L330,1340 C600,1370 800,1450 950,1520"/>
<path d="M100,1370 L120,1410 M200,1360 L210,1400 M290,1350 L310,1390"/>
<path d="M500,1360 C700,1400 900,1460 1200,1570 L1160,1600 C1050,1560 900,1510 780,1470"/>
<path d="M960,1330 C970,1260 1050,1220 1200,1230 L1450,1370 C1480,1400 1470,1480 1420,1510 L1250,1510 C1100,1450 1000,1400 960,1330 Z"/>
<path d="M1010,1330 C1020,1280 1060,1250 1150,1250 L1400,1400 C1430,1440 1420,1480 1380,1490 L1260,1490 C1150,1440 1050,1390 1010,1330 Z"/>
<path d="M1340,1250 L1470,1285 M1250,1070 L1622,1280 M1420,970 L1622,1070"/>
<path d="M1190,1570 L1230,1590 L1500,1660 M1250,1620 L1400,1700 M1080,1650 L1270,1760 M1400,1530 L1622,1420 M1200,1590 L1350,1540 L1360,1570 L1230,1620 M1290,1620 L1420,1690"/>
<path d="M900,1250 L950,1270 M1000,1240 L1040,1230 M1080,1190 L1150,1180"/>
<path d="M1150,1680 L1190,1670 L1190,1700 M1080,1810 L1100,1790"/>
<ellipse cx="880" cy="1350" rx="30" ry="18"/>
<ellipse cx="1020" cy="1590" rx="22" ry="14"/>
<path d="M660,1380 L820,1450"/>
<path d="M380,1290 L400,1340 M260,1310 L300,1330"/>
<g class="dots"><circle cx="890" cy="1130" r="12"/><circle cx="830" cy="1190" r="9"/><circle cx="1160" cy="1000" r="10"/><circle cx="1490" cy="810" r="10"/><circle cx="1080" cy="1180" r="10"/><circle cx="1200" cy="1240" r="12"/><circle cx="990" cy="1350" r="12"/><circle cx="1440" cy="1380" r="12"/><circle cx="1240" cy="1490" r="12"/><circle cx="1580" cy="1380" r="10"/><circle cx="1280" cy="1560" r="10"/><circle cx="900" cy="1510" r="10"/><circle cx="510" cy="1210" r="12"/><circle cx="560" cy="1240" r="12"/><circle cx="360" cy="1340" r="12"/><circle cx="290" cy="1310" r="10"/><circle cx="720" cy="1220" r="12"/><circle cx="1300" cy="780" r="14"/><circle cx="1390" cy="770" r="10"/><circle cx="1410" cy="710" r="10"/><circle cx="1140" cy="840" r="10"/><circle cx="920" cy="990" r="10"/><circle cx="780" cy="1060" r="10"/><circle cx="620" cy="1150" r="10"/><circle cx="500" cy="1290" r="10"/></g>
</g>
<g transform="translate(1360,900) scale(0.23428)">
<path d="M640,200 L690,130 L720,150 L710,230 L760,270 L830,285 L855,300 L855,340 L830,400 L770,390 L720,480 L690,560 L660,570 L560,610 L530,630"/>
<path d="M530,240 L560,250 L600,280 L560,310 L520,370 L470,430 L450,480 L420,540 M530,240 L520,300 L470,360"/>
<path d="M640,200 L610,300 L550,400 M680,170 L710,230"/>
<path d="M410,380 L430,420 L380,480 L290,500 L270,540 L220,560 L200,600 M0,650 L200,570"/>
<path d="M470,480 L570,420 L590,440 L510,500 Z"/>
<path d="M370,560 L460,640 L470,670 M620,450 L640,430"/>
<path d="M770,400 C850,480 950,560 1050,640 L1250,740 L1250,780 L1280,745 L1410,760 L1420,800 L1400,810 L1370,830 L1360,850 C1380,870 1400,890 1400,910 L1380,940 L1300,990 L1150,1040 L1120,1035 L1060,1050 L1000,1070 L830,1170 L440,1390 L100,1580 L40,1640 L0,1660"/>
<path d="M780,410 L860,510 L1020,630 L1250,760 M890,530 L1020,640 M1080,680 L1250,770"/>
<path d="M1280,780 L1400,790 M1340,840 L1380,830 L1380,950 L1150,1040"/>
<path d="M590,620 L950,850 L900,880 L560,660"/>
<path d="M0,980 L500,1250 M0,1170 L380,1390 M0,1280 L30,1290"/>
<path d="M430,1140 L620,1260 M270,1240 L460,1350 M110,1330 L300,1440 M590,830 L800,930 M1050,830 L1250,940 M1140,780 L1330,880"/>
<path d="M320,830 L400,790 M480,780 C520,770 550,770 560,790 M160,890 L220,900"/>
<path d="M80,1620 L440,1420 L1000,1090 L1060,1060 M60,1600 L420,1400 L1020,1060"/>
<path d="M870,960 L930,950 L1180,1090 M940,880 L1220,1050 L1300,1000 M950,890 L1060,900 L1180,940"/>
<path d="M620,1140 L880,990 L900,1010 L640,1160 M700,1100 L780,1160 M780,1060 L860,1110 M850,1030 L950,1080 M620,1150 L700,1210"/>
<path d="M0,1500 L200,1390 L290,1450 M50,1520 L130,1560 M130,1480 L210,1530"/>
<path d="M520,1100 C560,1100 580,1110 580,1130"/>
<path d="M990,760 C960,780 980,800 1000,790 C1020,780 1030,760 990,760 Z"/>
<ellipse cx="575" cy="690" rx="25" ry="18"/>
<path d="M770,570 L830,530 L850,550 L790,590 Z"/>
<path d="M885,660 L885,690"/>
<path d="M1110,860 L1150,850 L1150,870 M1200,800 L1240,790 M540,1200 L570,1190 L570,1210 M460,1240 L490,1230 L490,1250 M380,1290 L410,1280 L410,1300 M300,1340 L330,1330 L330,1350 M200,1390 L230,1380"/>
<g class="dots"><circle cx="900" cy="920" r="12"/><circle cx="540" cy="1130" r="10"/><circle cx="270" cy="655" r="12"/><circle cx="365" cy="620" r="12"/><circle cx="400" cy="840" r="10"/><circle cx="40" cy="810" r="10"/><circle cx="130" cy="1385" r="10"/><circle cx="885" cy="660" r="12"/><circle cx="670" cy="240" r="12"/><circle cx="720" cy="280" r="12"/><circle cx="660" cy="300" r="10"/><circle cx="700" cy="330" r="12"/><circle cx="620" cy="350" r="12"/><circle cx="580" cy="380" r="12"/><circle cx="620" cy="410" r="12"/><circle cx="660" cy="380" r="10"/><circle cx="420" cy="540" r="12"/><circle cx="460" cy="540" r="12"/><circle cx="430" cy="580" r="10"/><circle cx="540" cy="600" r="12"/><circle cx="660" cy="565" r="10"/><circle cx="480" cy="605" r="12"/><circle cx="600" cy="440" r="8"/></g>
</g>
<g transform="translate(1420,910) scale(0.098644)">
<path d="M640,490 L700,470 L860,530 L880,580 L820,680 L700,760 L520,780 M680,520 L700,620 M740,520 L760,620 M800,540 L810,640"/>
<path d="M480,820 C470,880 490,940 530,950 L880,700"/>
<path d="M0,1200 L200,1080 L420,1020 L520,940 M0,1260 L240,1120 L430,1060 M80,1100 L260,1000 L420,1030"/>
<path d="M540,1060 L700,900 L760,940 L620,1120 Z M600,1040 L720,940" stroke-width="4"/>
<path d="M810,990 L970,870 M870,900 L910,970"/>
<path d="M360,820 L460,810 M500,1330 L590,1300" stroke-width="6"/>
<path d="M1180,1260 L1300,1160 L1420,1200 L1300,1320 Z" stroke-width="5"/>
<path d="M1200,870 L1420,1130 L1622,1300 M1480,1140 L1622,1250"/>
<path d="M0,1250 L200,1150 L0,1300 Z" class="f"/>
<g class="dots"><circle cx="990" cy="480" r="22"/><circle cx="980" cy="545" r="24"/><circle cx="950" cy="615" r="22"/><circle cx="1115" cy="545" r="20"/><circle cx="1095" cy="610" r="22"/><circle cx="1065" cy="670" r="20"/><circle cx="875" cy="730" r="22"/><circle cx="965" cy="800" r="22"/><circle cx="765" cy="820" r="22"/><circle cx="870" cy="880" r="22"/><circle cx="395" cy="1180" r="22"/><circle cx="490" cy="1175" r="24"/><circle cx="470" cy="1230" r="20"/><circle cx="300" cy="1220" r="18"/><circle cx="405" cy="1280" r="18"/><circle cx="960" cy="1235" r="18"/><circle cx="680" cy="1330" r="18"/><circle cx="1170" cy="655" r="8"/></g>
</g>
<g>
<path d="M1395,1043 L1420,1028.4 L1439.7,1016.5 L1461.4,1010.6 L1471.3,1002.7"/>
<path d="M1395,1052.7 L1505,992" stroke-width="4.5"/>
<path d="M1395,1092.6 L1505,1035.5 M1395,1080 L1500,1022" />
<path d="M1395,1096 L1505,1039" stroke-dasharray="10,7"/>
<g class="dots"><circle cx="1423" cy="1059" r="3"/><circle cx="1445" cy="1045" r="3"/></g>
</g>

<g transform="translate(1500,1230) scale(0.25894)">
<path d="M60,730 L890,245 L920,240 L955,260 L965,290 L985,680 C1000,740 1020,780 1050,800 L1220,810 L1280,840 L1500,940 L1560,900 L1565,920 L1540,950 L1400,1070 L1000,1280 L600,1480 L590,1520 L560,1510 L260,1380 L240,1340 L230,1280 L200,1260 C150,1220 130,1180 130,1130 L110,770 L60,730"/>
<path d="M70,740 L100,760 L900,290 L940,290 L965,300 M110,770 L135,765 L160,1160 L130,1170 M940,290 L965,680 L990,680"/>
<path d="M250,970 L260,1100 C280,1160 300,1190 330,1210 M350,730 L375,1070 M470,640 L490,960 C500,1030 560,1070 640,1090 M590,890 C610,950 640,990 680,1010 M690,470 L730,910 M810,460 L840,800 M915,580 L930,740 M865,740 C880,800 900,850 980,900 C1050,930 1100,950 1280,960"/>
<path d="M230,1280 L250,1350 L560,1490 M600,1450 L1000,1260 L1400,1060 L1560,910 M590,1440 L1000,1240 L1400,1040 L1540,940"/>
<path d="M1030,800 L1220,850 L1500,940 M1080,860 L1200,880 L1290,920 M1210,880 L1260,840"/>
<ellipse cx="370" cy="1235" rx="30" ry="18"/>
<ellipse cx="990" cy="880" rx="28" ry="17"/>
<ellipse cx="755" cy="1078" rx="28" ry="17"/>
<ellipse cx="1330" cy="1070" rx="30" ry="16"/>
<path d="M790,1300 C900,1260 1000,1240 1100,1160 M410,1110 C450,1150 520,1200 600,1220 M360,1280 C400,1300 450,1340 520,1380 M1080,1030 C1110,1030 1140,1040 1150,1060 M1100,1120 L1150,1080 M740,950 C780,980 830,1000 910,1010 M810,960 L850,950"/>
<path d="M640,1290 C650,1260 720,1260 760,1290 C740,1320 660,1320 640,1290 Z M690,1290 C700,1280 730,1285 720,1300"/>
<path d="M400,650 L410,690 L395,690 Z M520,790 L530,840 L510,840 Z M590,750 L600,820" class="f"/>
<path d="M600,1020 L640,1040 M1250,950 C1270,940 1290,950 1280,960 M1330,970 L1370,990 M780,1340 L810,1360"/>
<path d="M675,0 L675,370"/>
<g class="dots"><circle cx="290" cy="1275" r="12"/><circle cx="430" cy="1275" r="12"/><circle cx="630" cy="1080" r="12"/><circle cx="720" cy="1135" r="12"/><circle cx="1055" cy="840" r="12"/><circle cx="1050" cy="910" r="12"/><circle cx="575" cy="1420" r="14"/><circle cx="985" cy="1210" r="14"/><circle cx="1340" cy="975" r="14"/><circle cx="490" cy="1140" r="8"/><circle cx="550" cy="1180" r="8"/><circle cx="500" cy="1390" r="10"/><circle cx="760" cy="1400" r="12"/><circle cx="1040" cy="1300" r="12"/><circle cx="1280" cy="940" r="8"/></g>
</g>

<g transform="translate(1280,1500) scale(0.19729)">
<path d="M160,710 C140,740 120,790 130,830 L150,870 L470,1050 L540,1040 L560,1065 L720,1040 L740,1010 L790,1020 L800,1060 L830,1060 L840,1020 L900,1020 L910,1040 L950,1035 L970,1050 L1000,1100 L1100,1170 L1400,1300 L1500,1280 L1520,1270 L1545,800 L1480,820 L1440,790"/>
<path d="M160,710 L200,660 L260,600 L270,580 L260,550 L280,510 L330,490 L440,500 L480,490 L600,420 L700,370 L760,320 L800,270 L830,255 L870,280 L890,310 L900,470 L1440,790 L1470,810"/>
<path d="M270,540 L330,520 L440,525 L500,510 L600,450 L700,400 L780,340 L830,290 L850,300 L870,350 L880,450"/>
<path d="M440,525 L540,540 L1100,880 L1170,880 M470,530 L1120,900 M700,400 L790,460 L800,480 L1440,800 M800,480 L1420,820"/>
<path d="M960,990 L1440,800 M950,1020 L1440,810 M980,950 L990,980"/>
<path d="M790,340 L830,440 M700,400 L770,460 M810,460 L820,370"/>
<ellipse cx="410" cy="625" rx="80" ry="45"/>
<path d="M310,660 C350,710 450,720 570,680"/>
<path d="M250,850 C280,830 320,790 330,760 M210,765 L230,740 M1130,980 C1150,1000 1160,1020 1160,1030 M1215,1020 C1240,1080 1280,1180 1330,1225 M1050,960 C1070,1020 1090,1080 1110,1110"/>
<ellipse cx="1385" cy="1060" rx="22" ry="35"/>
<path d="M155,855 L475,1035"/>
<path d="M1490,910 L1495,820 M1220,850 L1310,810 L1320,830 L1230,870 Z M880,510 L990,560 M890,600 L950,620 M1060,600 L1140,620"/>
<path d="M660,640 L720,680 M850,740 L940,790"/>
<path d="M170,225 L170,710"/>
<g class="dots"><circle cx="540" cy="545" r="14"/><circle cx="800" cy="610" r="16"/><circle cx="940" cy="770" r="18"/><circle cx="1175" cy="885" r="14"/><circle cx="885" cy="925" r="16"/><circle cx="290" cy="725" r="18"/><circle cx="1270" cy="735" r="12"/><circle cx="530" cy="665" r="12"/><circle cx="1095" cy="630" r="12"/><circle cx="925" cy="530" r="10"/><circle cx="760" cy="380" r="12"/><circle cx="995" cy="925" r="12"/></g>
</g>

<g transform="translate(1840,1180) scale(0.18496)">
<path d="M135,515 L250,470 L380,420 L580,300 L600,280 L570,210 L590,180 L620,175 L760,175 L880,140 M1000,150 L1240,260 L1420,380 C1470,430 1500,490 1500,540 L1500,640"/>
<path d="M135,515 L140,530 L180,550 L195,590 L230,1130 C240,1200 280,1260 360,1290 L420,1310 L580,1390 L900,1530 L1020,1500 L1060,1470 L1090,1400 L1110,930 L1130,900 L1150,890 L1480,600"/>
<path d="M210,585 L240,575 L275,1110 L245,1125"/>
<path d="M1080,980 L1110,950 L1090,1440 L1040,1500 M1080,980 L1050,1480"/>
<path d="M620,195 L640,290 L1150,580 L1330,690 L1460,600 L1490,520"/>
<path d="M380,450 L420,440 L1140,860 L1170,850 L1330,700 M420,440 L600,320 L620,290 M390,420 L600,300"/>
<path d="M150,520 L390,470 L480,490 L1120,860"/>
<path d="M500,500 L560,500 L1140,830 M580,550 L600,570 M650,600 L660,630 M780,660 L780,690 M1030,790 L1040,820"/>
<path d="M840,710 L1120,860" stroke-width="5"/>
<path d="M830,430 L920,450 M910,460 L1100,560"/>
<path d="M1140,560 L1200,510 L1300,470 L1400,480 L1440,530 L1440,600 L1380,650 L1300,660 L1250,630 L1260,590 L1350,540 M1160,570 L1170,620 L1240,650"/>
<path d="M330,1265 L560,1280 L1020,1480 M580,1380 L640,1340 L800,1400 L730,1450 M1240,790 L1290,750"/>
<ellipse cx="890" cy="250" rx="75" ry="40"/>
<ellipse cx="560" cy="745" rx="30" ry="42"/>
<ellipse cx="1005" cy="1220" rx="30" ry="42"/>
<path d="M770,800 C790,840 820,920 845,985 M710,1100 L750,1245 M665,730 C690,745 700,770 695,780 M985,980 C1005,1000 1015,1020 1015,1040 M430,1105 L500,1130 L520,1160 L545,1260 M400,500 L405,570"/>
<g class="dots"><circle cx="715" cy="235" r="14"/><circle cx="1070" cy="230" r="10"/><circle cx="800" cy="500" r="18"/><circle cx="1265" cy="550" r="14"/><circle cx="1380" cy="505" r="14"/><circle cx="1365" cy="620" r="14"/><circle cx="365" cy="605" r="14"/><circle cx="395" cy="1060" r="12"/><circle cx="700" cy="1030" r="10"/><circle cx="895" cy="1145" r="10"/><circle cx="990" cy="545" r="10"/><circle cx="660" cy="1380" r="10"/></g>
<path d="M1240,-256 L1240,260"/>

</g>

<g transform="translate(1680,1440) scale(0.19729)">
<path d="M40,1310 L230,1155 L255,1160 C300,1230 380,1320 520,1330 L660,1320" stroke-width="4.5"/>
<path d="M60,1320 L235,1185 C300,1260 380,1350 520,1360 L660,1340"/>
<path d="M40,1310 L50,1330 L55,1620 L80,1620 L120,1600 L150,1620 L150,1780 L280,1870 L510,1770"/>
<path d="M50,1330 L100,1340 L120,1550 L60,1560 M70,1330 L85,1600"/>
<path d="M120,1500 L520,1390 M120,1550 L500,1450 L640,1390"/>
<path d="M520,1400 L520,1880 L550,1900 L1000,1730 L1400,1550 L1622,1420 M550,1400 L590,1400 L590,1860 L1000,1700 L1400,1510 L1622,1380"/>
<path d="M720,1280 L1000,1190 L1380,1000 L1622,850" stroke-width="4.5"/>
<path d="M730,1310 L1000,1230 L1380,1040 L1622,900 M660,1300 L730,1310 L720,1280 M1380,990 L1420,960"/>
<path d="M555,1280 L760,1200 L900,1120 L1050,1030 L1240,1020 M1430,850 L1440,810 L1500,760 L1622,700"/>
<path d="M640,1390 L1320,1130"/>
<path d="M780,1340 L880,1310 L900,1360 L800,1400 Z M990,1250 L1080,1220 L1100,1270 L1010,1300 Z M1160,1170 L1260,1130 L1280,1180 L1180,1210 Z M1040,1050 L1100,1040 L1120,1070 L1060,1090 Z M1510,790 L1570,770 L1580,800 L1520,820 Z"/>
<path d="M840,1640 L1000,1570 L1400,1340 L1622,1220" stroke-dasharray="16,22"/>
<path d="M1180,1230 L1160,1470 M1320,1150 L1310,1260 M1570,980 L1555,1210"/>
<path d="M230,1330 L240,1440 L280,1450 L280,1330 Z"/>
<ellipse cx="490" cy="1515" rx="22" ry="17"/>
<ellipse cx="210" cy="1655" rx="22" ry="17"/>
<ellipse cx="350" cy="1740" rx="22" ry="17"/>
<g class="dots"><circle cx="255" cy="1350" r="12"/><circle cx="255" cy="1420" r="12"/><circle cx="830" cy="1330" r="14"/><circle cx="1040" cy="1240" r="14"/><circle cx="1210" cy="1160" r="14"/><circle cx="1070" cy="1070" r="10"/><circle cx="650" cy="1270" r="10"/><circle cx="1545" cy="790" r="10"/><circle cx="60" cy="1500" r="12"/></g>
</g>
<g transform="translate(1960,1420) scale(0.19729)">
<path d="M590,225 L790,160 L810,180 L810,480 L760,520 L745,550 L745,640 L650,860 L490,1000 L460,1010 L440,1220 C430,1260 400,1290 380,1300 L0,1540"/>
<path d="M590,225 L620,370 C620,500 560,610 440,700 L0,1030" stroke-width="4.5"/>
<path d="M620,225 L650,370 C650,480 600,590 500,660 L0,1060"/>
<path d="M640,250 L780,210 M780,200 L790,480 M810,320 L1300,320"/>
<path d="M530,680 L0,1080 M560,660 L650,590"/>
<path d="M150,1080 L130,1320 M380,960 L380,1140 M400,960 L400,1240 L0,1480 M420,940 L420,1230 C400,1260 380,1280 0,1510"/>
<path d="M60,1180 L840,1630" stroke-dasharray="34,9,14,9"/>
<path d="M690,360 L750,330 L760,430 L700,460 Z"/>
<path d="M150,1050 L590,780 L600,800 L180,1100 M300,900 L420,850 L440,880 L320,940 Z M460,810 L560,760 L580,790 L480,840 Z"/>
<path d="M60,880 L170,820 L320,720 L420,650 L520,610 M60,880 L30,960 M420,650 L480,640"/>
<path d="M100,890 L170,860 L180,900 L110,920 Z M430,660 L490,640 L500,680 L440,700 Z"/>
<path d="M0,1420 L100,1380 M80,1330 L160,1290 M20,1120 L60,1100 M260,1220 L340,1170"/>
<ellipse cx="695" cy="625" rx="14" ry="20"/>
<ellipse cx="600" cy="850" rx="14" ry="20"/>
<g class="dots"><circle cx="520" cy="600" r="10"/><circle cx="700" cy="370" r="10"/><circle cx="710" cy="430" r="10"/><circle cx="660" cy="300" r="6"/></g>
</g>

<g transform="translate(1430,170) scale(0.18494)">
<path d="M55,940 L65,915 L180,840 L1450,100 L1580,35 L1622,30"/>
<path d="M55,940 L130,965 L780,1300"/>
<path d="M130,970 L150,990 L330,1095 L350,1080"/>
<path d="M160,915 C147,901 168,891 180,880 C192,869 210,857 230,850 C250,843 270,836 300,840 C330,844 387,864 410,875 C433,886 440,894 440,905 C440,916 428,930 410,940 C392,950 355,961 330,965 C305,969 288,973 260,965 C232,957 173,929 160,915 Z"/>
<path d="M390,785 C380,773 398,764 420,745 C442,726 490,685 520,670 C550,655 563,651 600,655 C637,659 713,684 740,695 C767,706 777,701 760,720 C743,739 673,792 640,810 C607,828 587,829 560,830 C533,831 508,822 480,815 C452,808 400,797 390,785 Z"/>
<path d="M710,600 C707,592 693,600 740,570 C787,540 937,447 990,420 C1043,393 1028,403 1060,408 C1092,413 1158,440 1180,450 C1202,460 1228,440 1190,470 C1152,500 1002,601 950,630 C898,659 912,648 880,645 C848,642 788,622 760,615 C732,608 713,608 710,600 Z"/>
<path d="M1140,350 C1135,339 1140,331 1170,310 C1200,289 1287,240 1320,225 C1353,210 1340,212 1370,218 C1400,224 1477,249 1500,260 C1523,271 1530,264 1510,285 C1490,306 1417,366 1380,385 C1343,404 1320,402 1290,400 C1260,398 1225,383 1200,375 C1175,367 1145,361 1140,350 Z"/>
<path d="M1460,170 L1500,120 L1622,85"/>
<path d="M780,965 L995,840 L1330,1030"/>
<path d="M1075,795 L1505,545 L1622,610"/>
<ellipse cx="1460" cy="770" rx="195" ry="118"/>
<path d="M1320,690 C1400,650 1550,645 1622,655"/>
<ellipse cx="815" cy="1135" rx="90" ry="52"/>
<ellipse cx="575" cy="1035" rx="28" ry="15"/>
<path d="M680,1055 L865,1055"/>
<path d="M975,685 Q1005,670 1035,685"/>
<path d="M395,1415 L720,1300"/>
<path d="M780,1300 L900,1255 L1000,1215 L1080,1170 L1250,1070 L1330,1040 L1450,975 L1622,905"/>
<path d="M430,1445 C600,1420 700,1400 740,1400 L1000,1305 L1330,1160 L1622,1010"/>
<path d="M620,1390 L690,1375"/>
<path d="M760,1385 L1030,1280" stroke-width="5"/>
<path d="M780,1335 L1035,1270 M1100,1265 L1230,1200"/>
<path d="M1410,1105 L1600,1010 M1420,1120 L1610,1025"/>
<path d="M395,1415 L420,1445 L440,1460 L400,1495 L395,1530 L460,1580 L475,1620 L545,1770 L600,1830 L740,1710 L770,1640 L795,1580 L860,1525 L975,1470"/>
<path d="M975,1450 L1000,1480"/>
<g class="dots"><circle cx="740" cy="855" r="12"/><circle cx="1000" cy="705" r="12"/><circle cx="1360" cy="495" r="12"/><circle cx="1595" cy="360" r="12"/><circle cx="930" cy="1195" r="12"/><circle cx="705" cy="1060" r="10"/><circle cx="210" cy="905" r="12"/><circle cx="690" cy="1385" r="14"/></g>
</g>
<g transform="translate(1700,170) scale(0.18494)">
<path d="M0,100 L120,40 L190,15 L370,70 L940,405"/>
<path d="M20,150 C25,139 42,120 60,110 C78,100 97,87 130,90 C163,93 235,119 260,130 C285,141 282,146 280,155 C278,164 267,176 250,185 C233,194 203,207 180,210 C157,213 135,211 110,205 C85,199 45,184 30,175 C15,166 15,161 20,150 Z"/>
<path d="M0,280 L40,270 L55,285 L20,320 L0,325"/>
<ellipse cx="455" cy="260" rx="28" ry="16"/>
<path d="M415,228 Q460,210 510,235"/>
<path d="M490,325 Q600,305 730,345"/>
<ellipse cx="625" cy="398" rx="88" ry="52"/>
<path d="M120,500 L360,375 L400,375 L750,570"/>
<path d="M0,575 L50,545 L410,750"/>
<path d="M0,650 A220,125 0 0 1 0,890"/>
<path d="M0,655 Q100,660 175,690"/>
<path d="M1130,140 L940,335 L925,390"/>
<path d="M1130,140 L1190,150 L1230,140 L1255,150 L1300,130 L1330,150 L1385,215 L1390,240 L1420,275 L1520,360 L1565,405 L1560,415 L1420,470"/>
<path d="M925,485 L1110,340 M945,470 L1125,345"/>
<path d="M465,820 L640,710 M470,800 L630,700"/>
<path d="M290,935 L370,905"/>
<path d="M1120,530 L1150,560"/>
<g class="dots"><circle cx="140" cy="355" r="12"/><circle cx="745" cy="462" r="12"/><circle cx="1135" cy="280" r="14"/><circle cx="510" cy="330" r="12"/><circle cx="625" cy="850" r="8"/></g>
</g>
<path d="M1570.4,478.6 C1578,462 1590,453 1611.8,442.3 L1689.5,408.7 C1715,396 1740,383 1767.2,369.8 C1790,357 1810,346 1831.9,333.6 C1850,322 1868,312 1886.3,299.9 C1900,290 1910,279 1917.3,271.4 C1925,263 1930,257 1935.5,254.6 C1940,251 1944,249.5 1948.4,249.4 L1958.8,249.4 L1964,254.6" stroke-width="4.2"/>
<path d="M1567.8,421.6 L1637.7,395.7 L1741.3,351.7 C1780,331 1800,320 1819,307.7 C1845,290 1860,278 1875.9,266.3 C1890,254 1900,243 1909.6,232.6"/>
<path d="M1676.5,362.1 L1720.5,341.3 C1740,330 1755,322 1767.2,315.5 L1798.2,294.7 L1831.9,271.4 L1870.7,245.5 L1886.3,237.8"/>
<path d="M1874.8,244.9 L1921.9,200.5"/>

<g transform="translate(1080,780) scale(0.25339)">
<path d="M1115,520 C1120,490 1180,445 1260,410 C1300,395 1340,395 1360,410 L1550,520 C1580,540 1590,590 1560,610 L1420,665 C1390,675 1360,670 1340,650 L1140,550 Z" stroke-width="3.5"/>
<path d="M1140,550 C1200,560 1290,600 1350,640"/>
<path d="M1200,480 L1440,600 M1200,505 L1390,600 M1270,455 L1350,490 M1420,540 L1530,570 L1500,600 L1400,620"/>
<path d="M1230,430 L1290,450 M1360,470 L1380,480"/>
<path d="M1295,660 L1295,1220" stroke-dasharray="34,9,14,9"/>
<g class="dots"><circle cx="1330" cy="410" r="10"/><circle cx="1145" cy="520" r="10"/><circle cx="1555" cy="540" r="10"/><circle cx="1365" cy="650" r="10"/><circle cx="1370" cy="520" r="6"/><circle cx="1420" cy="520" r="6"/></g>
</g>

<g>
<path d="M679.5,726 C681,712 690,704 702.8,697.5 L870.2,600 L935.9,563.2 L1044.6,501.9 C1058,494 1075,487 1091.3,486.4 L1134.4,492.4" stroke-dasharray="30,3"/>
<path d="M689,738.1 C689,725 695,716 704.5,710.5 L1008.4,532.1 L1061.9,502.8 C1075,497 1088,495.5 1099.9,495.9 L1117.2,497.6"/>
<path d="M697.6,736.4 L1127.5,492.4" stroke-width="5"/>
<path d="M693,731 L1122,487"/>
<path d="M711.4,745.9 L1151.7,495 C1157,493 1160,498 1156.9,505.4 L718.3,756.2"/>
<ellipse cx="714" cy="751.9" rx="4.5" ry="6.5"/>
<path d="M679.5,726 C676,740 680,748 692.4,745 M689,738.1 L697.6,760"/>
<path d="M692.4,745 L782.2,791.6 M697.6,755.4 L780.5,799"/>
<path d="M694.2,760.5 L690.7,791.6 L682.1,796.8 L687.3,802 L699.3,803.7 L716.6,795.1 L721.8,777.8"/>
<path d="M782.2,769.2 L789.1,812.3 L801.2,814.1 L821.9,800.2 L816.7,796.8 L804.6,796.8 L794.3,774.4"/>
<path d="M721.8,758.8 L751.1,755.4 L782.2,767.4 C799.5,776.1 816.7,770.9 842.6,760.5 L859.9,760.5 L877.2,750.2 L950,714"/>
<path d="M720,700 C730,710 733,720 732.1,731.2 M716,703 L713,735 M818.5,646.6 C828,656 833,665 834,674.2 M812,650 L811,672 M927.3,577 C933,588 936,598 935.9,608.1 M1030.8,520 C1036,530 1038,540 1037.7,549.4"/>
<path d="M758,667.3 L794.3,651.8 L808.1,667.3 L794.3,679.4 L765,672 Z M775,667 L785,662 L790,668 L780,672 Z"/>
<path d="M861.6,606.9 L895,590 L905,600 L880,615 Z M967,546 L999.8,530.4 L1006.7,537.3 L1006.7,547.7 L985,555 Z M990,548 L1000,543 L1005,548 L995,552 Z"/>
<path d="M1098.2,628.8 C1110,640 1125,645 1134.4,644.4 L1148.2,656.4 L1158.6,653 L1160,647 L1150,644 L1135,638 C1120,628 1112,620 1108,612"/>
<g class="dots"><circle cx="718" cy="707" r="2.5"/><circle cx="717" cy="719" r="2.5"/><circle cx="820" cy="652" r="2.5"/><circle cx="820" cy="662" r="2.5"/><circle cx="930" cy="588" r="2.5"/><circle cx="932" cy="600" r="2.5"/><circle cx="1023" cy="534" r="2.5"/><circle cx="1025" cy="545" r="2.5"/><circle cx="775" cy="665" r="2"/><circle cx="990" cy="540" r="2"/><circle cx="863" cy="712" r="3"/><circle cx="844" cy="724" r="3"/><circle cx="863" cy="747" r="3"/><circle cx="885" cy="735" r="3"/><circle cx="753" cy="762" r="3"/><circle cx="772" cy="770" r="3"/><circle cx="697" cy="801" r="2"/><circle cx="1056" cy="593" r="3"/><circle cx="1075" cy="634" r="3"/><circle cx="1073" cy="598" r="2"/><circle cx="1073" cy="615" r="2"/><circle cx="1055" cy="643" r="3"/><circle cx="944" cy="718" r="2"/></g>
</g>
<g transform="translate(670,600) scale(0.17263)">
<path d="M940,810 L1000,790 M1100,740 L1160,710 M1250,570 L1300,545 M1270,650 L1320,625 M1420,470 L1470,445 M1400,580 L1450,555 M1540,490 L1590,465" stroke-width="13" stroke-linecap="round"/>
<path d="M945,810 L995,792 M1105,740 L1155,712 M1255,570 L1295,548 M1275,650 L1315,628 M1425,470 L1465,448 M1405,580 L1445,558 M1545,490 L1585,468" stroke-width="6" style="stroke:#fdfdfb" stroke-linecap="round"/>
<ellipse cx="870" cy="895" rx="18" ry="12"/>
</g>
<g transform="translate(910,470) scale(0.17263)">
<path d="M470,960 L530,930 M620,970 L680,940 M650,870 L710,840 M770,890 L830,860 M470,1055 L530,1025 M920,800 L980,770 M1080,710 L1140,680" stroke-width="13" stroke-linecap="round"/>
<path d="M475,960 L525,932 M625,970 L675,942 M655,870 L705,842 M775,890 L825,862 M475,1055 L525,1027 M925,800 L975,772 M1085,710 L1135,682" stroke-width="6" style="stroke:#fdfdfb" stroke-linecap="round"/>
<ellipse cx="1215" cy="645" rx="22" ry="14"/>
</g>
<g transform="translate(1040,460) scale(0.25339)">
<path d="M380,230 L440,210 L560,280 L650,330 L700,380 L730,400 L800,380 L790,405 L740,430 L680,430 L640,400 L580,330 L550,320"/>
<path d="M390,250 L410,280 L460,270 M500,270 L540,260 M560,310 L640,350"/>
<path d="M700,380 L730,370 L760,375"/>
</g>
<g transform="translate(660,460) scale(0.25339)">
<path d="M350,1175 C450,1140 600,1150 660,1120 L810,1060"/>
<path d="M600,950 L720,900 L820,1060"/>
<path d="M820,940 L1230,700 M820,1160 L1240,930 M820,940 L820,1160"/>
<path d="M1040,700 C1080,760 1120,800 1140,820 L1240,930"/>
<path d="M1210,760 L1622,520 M1270,870 L1622,670 M1210,760 L1220,790 L1270,870"/>
<path d="M810,1180 C850,1210 900,1230 1000,1240 L1070,1270 L1130,1250 L1150,1220 L1100,1210 L1000,1200 C950,1160 920,1130 900,1110"/>
<path d="M1240,950 C1270,980 1330,1000 1400,1000 L1490,1030 L1545,1010 L1560,980 L1520,970 L1420,960 C1360,920 1320,890 1290,860"/>
<path d="M1535,1050 L1535,1460" stroke-dasharray="34,9,14,9"/>
</g>
<g transform="translate(1040,460) scale(0.25339)">
<path d="M0,600 L120,510 L130,490 M140,690 C300,600 450,500 560,330"/>
<path d="M150,690 C180,730 250,760 320,770 L400,795 L460,770 L480,745 L440,730 L360,720 L300,700 L240,640"/>
<path d="M0,790 L260,640"/>
<path d="M450,850 L450,1260" stroke-dasharray="34,9,14,9"/>
<path d="M0,1000 C30,990 60,985 65,1000 C50,1010 20,1020 0,1030"/>
</g>

<g transform="translate(960,2820) scale(0.27127)">
<path d="M1000,960 L1010,900 L1040,875 L1070,885 L1080,920 L1500,1150 L1490,1180 L1400,1195 L1000,965 Z"/>
<path d="M1040,950 L1440,1160 M1050,935 L1180,1000 C1220,1010 1250,1040 1300,1060 L1450,1150"/>
<path d="M1180,990 L1180,1020 M1295,1060 L1295,1090 M1380,1140 L1420,1150" stroke-width="5"/>
<g class="dots"><circle cx="1040" cy="915" r="10"/></g>
<path d="M1075,1020 L1075,1253"/>
</g>

<g transform="translate(160,2620) scale(0.45623)">
<path d="M50,40 L1130,655"/>
<path d="M50,40 L90,45 L1150,650"/>
<path d="M50,40 L50,62 L1120,672"/>
<path d="M95,90 L95,165 L50,195 L50,220 L1490,1050"/>
<path d="M95,165 L1390,905 M60,205 L1390,975 M95,95 L1140,690"/>
<path d="M1130,655 C1200,700 1280,740 1330,745 L1480,775 L1580,745 L1605,760 L1590,800 L1560,810 L1560,900 L1530,960 L1520,1020 L1490,1050"/>
<path d="M1140,690 C1210,720 1290,760 1340,770 L1460,790"/>
<path d="M1390,880 C1385,830 1400,800 1420,790 L1480,795 L1470,850 L1470,900 L1500,960 L1505,1000 L1470,1005 L1420,990 L1410,960 C1395,940 1390,910 1390,880"/>
<path d="M1150,700 L1150,770 M1175,710 L1175,780 M1110,800 L1105,830 M1130,810 L1125,845 M280,160 L320,180 M520,300 L560,320"/>
<path d="M642,570 L642,775"/>
<g class="dots">
<circle cx="105" cy="195" r="10"/><circle cx="120" cy="210" r="5"/><circle cx="160" cy="230" r="5"/><circle cx="200" cy="250" r="5"/><circle cx="258" cy="280" r="10"/><circle cx="300" cy="310" r="5"/><circle cx="340" cy="330" r="5"/><circle cx="390" cy="355" r="10"/><circle cx="430" cy="380" r="5"/><circle cx="470" cy="405" r="5"/><circle cx="522" cy="432" r="10"/><circle cx="570" cy="465" r="5"/><circle cx="610" cy="485" r="5"/><circle cx="655" cy="510" r="10"/><circle cx="705" cy="540" r="5"/><circle cx="740" cy="560" r="5"/><circle cx="790" cy="585" r="10"/><circle cx="835" cy="620" r="5"/><circle cx="870" cy="635" r="5"/><circle cx="920" cy="662" r="10"/><circle cx="970" cy="690" r="5"/><circle cx="1010" cy="710" r="5"/><circle cx="1055" cy="740" r="10"/><circle cx="1110" cy="770" r="5"/><circle cx="1185" cy="815" r="10"/><circle cx="1230" cy="845" r="5"/><circle cx="1270" cy="865" r="5"/><circle cx="1345" cy="905" r="10"/><circle cx="1335" cy="800" r="5"/><circle cx="1470" cy="985" r="9"/>
<circle cx="160" cy="195" r="4"/><circle cx="235" cy="235" r="4"/><circle cx="330" cy="295" r="4"/><circle cx="455" cy="300" r="4"/><circle cx="640" cy="410" r="4"/><circle cx="580" cy="495" r="4"/><circle cx="830" cy="640" r="4"/><circle cx="890" cy="550" r="4"/><circle cx="1080" cy="785" r="4"/>
</g>
<path d="M720,435 C730,430 740,440 730,445 Z M785,470 C800,465 810,475 795,480 Z M830,495 C845,490 850,500 840,505 Z M910,540 C925,535 930,545 915,550 Z M970,575 C985,570 990,580 975,585 Z M1035,615 C1050,610 1055,620 1040,625 Z M970,700 C990,695 1000,705 985,712 Z"/>
<path d="M330,170 L330,190 M480,255 L480,280 M800,440 L800,470 M965,535 L965,560 M1190,665 L1190,690"/>
</g>

<g transform="translate(1280,1770) scale(0.24661)">
<path d="M160,85 L580,320 L660,370 L760,425 L1080,610 L1170,660 L1370,775 L1622,920"/>
<path d="M160,85 L160,125 L80,190 L75,420 L95,435 L1590,1298"/>
<ellipse cx="715" cy="625" rx="14" ry="20"/><ellipse cx="755" cy="665" rx="14" ry="20"/><ellipse cx="1100" cy="865" rx="14" ry="20"/><ellipse cx="1410" cy="825" rx="20" ry="14"/><ellipse cx="1520" cy="890" rx="20" ry="14"/><ellipse cx="1600" cy="935" rx="20" ry="14"/><ellipse cx="1565" cy="1130" rx="14" ry="20"/>
<g class="dots"><circle cx="100" cy="285" r="13"/><circle cx="195" cy="340" r="13"/><circle cx="545" cy="435" r="15"/><circle cx="545" cy="415" r="9"/><circle cx="710" cy="540" r="10"/><circle cx="825" cy="600" r="15"/><circle cx="825" cy="580" r="9"/><circle cx="1030" cy="725" r="10"/><circle cx="1060" cy="815" r="13"/><circle cx="1080" cy="805" r="11"/><circle cx="1165" cy="875" r="13"/><circle cx="1180" cy="865" r="11"/><circle cx="1420" cy="940" r="15"/><circle cx="1420" cy="920" r="9"/><circle cx="1610" cy="1170" r="12"/></g>
<path d="M1300,350 L1300,730"/>
</g>
<g transform="translate(1640,1960) scale(0.22194)">
<path d="M0,65 L650,440 L720,490 L800,520 L920,600 L1010,650 L1120,680 L1180,680 L1230,705 L1420,740 L1470,755 L1480,780 L1440,850 L1460,860 L1450,960 L1420,1020 L1400,1100 L1380,1160 L1420,1180 L1430,1220 L1530,1280 L1530,1320 L1500,1310 L1430,1280 L1430,1320 L1420,1325"/>
<path d="M0,500 L630,870 L700,905 L1420,1325"/>
<path d="M720,490 L725,540 L630,610 L620,620 L630,870" stroke-width="4"/>
<path d="M1280,880 L1340,950 M1440,790 L1420,850 M1400,900 L1390,930"/>
<ellipse cx="70" cy="135" rx="22" ry="16"/><ellipse cx="160" cy="188" rx="22" ry="16"/><ellipse cx="325" cy="283" rx="22" ry="16"/><ellipse cx="455" cy="355" rx="22" ry="16"/><ellipse cx="585" cy="430" rx="22" ry="16"/><ellipse cx="118" cy="405" rx="16" ry="20"/><ellipse cx="368" cy="528" rx="16" ry="20"/><ellipse cx="598" cy="683" rx="16" ry="20"/>
<g class="dots"><circle cx="295" cy="385" r="15"/><circle cx="170" cy="445" r="14"/><circle cx="310" cy="535" r="14"/><circle cx="550" cy="672" r="14"/><circle cx="750" cy="650" r="15"/><circle cx="760" cy="778" r="14"/><circle cx="1035" cy="768" r="11"/><circle cx="1235" cy="800" r="11"/><circle cx="1010" cy="915" r="14"/><circle cx="1380" cy="798" r="8"/><circle cx="1350" cy="1195" r="12"/></g>
</g>

</svg>
</body></html>
